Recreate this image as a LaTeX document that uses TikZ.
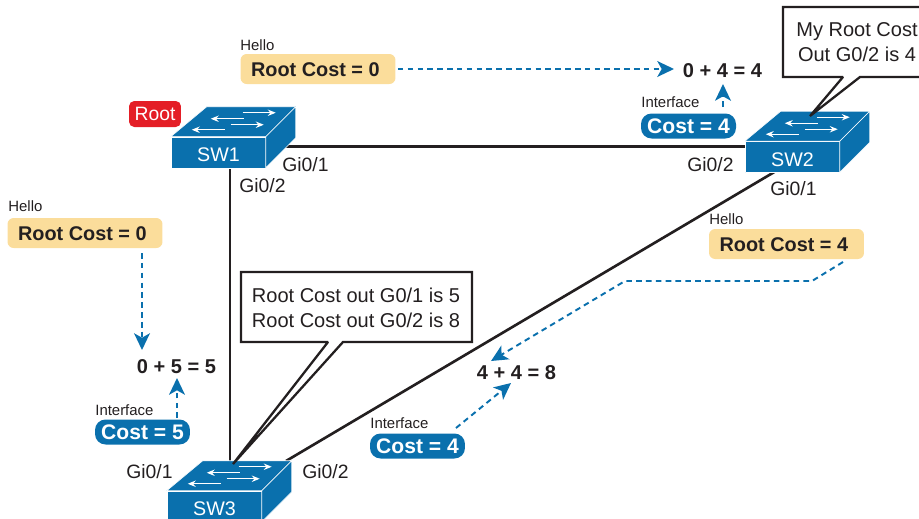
\documentclass[tikz,border=0pt]{standalone}
\usepackage{fontspec}
\setmainfont{Liberation Sans}
\usetikzlibrary{arrows.meta}
\definecolor{swblue}{HTML}{0A70AD}
\definecolor{helloyellow}{HTML}{FBDD9B}
\definecolor{rootred}{HTML}{E41E26}
\definecolor{inkblack}{HTML}{231F20}
\tikzset{
	link/.style={draw=inkblack,line width=1.5pt},
	flow/.style={draw=swblue,line width=1.1pt,dash pattern=on 3.2pt off 2.4pt,-{Stealth[length=9.5pt,width=9pt,inset=2.5pt]}},
	swface/.style={fill=swblue,draw=white,line width=0.3pt,line join=round},
	swfront/.style={swface,draw,minimum width=1.9cm,minimum height=0.62cm,inner sep=0pt,text=white,text height=1.03em,text depth=0pt,font=\fontsize{11.2}{13}\selectfont},
	swarrow/.style={draw=white,line width=0.75pt,-{Stealth[length=4.5pt,width=3.6pt]}},
	port/.style={inner sep=0pt,text=inkblack,font=\fontsize{11}{13}\selectfont},
	small/.style={inner sep=0pt,anchor=west,text=inkblack,font=\fontsize{8.5}{10}\selectfont},
	hello/.style={fill=helloyellow,rounded corners=3.5pt,minimum width=3.1cm,minimum height=0.6cm,inner sep=0pt,text=inkblack,text height=0.87em,text depth=0pt,font=\bfseries\fontsize{11.3}{13}\selectfont},
	ifcost/.style={fill=swblue,rounded corners=6pt,minimum width=1.9cm,minimum height=0.5cm,inner sep=0pt,text=white,text height=0.87em,text depth=0pt,font=\bfseries\fontsize{12}{14}\selectfont},
	sum/.style={inner sep=0pt,text=inkblack,font=\bfseries\fontsize{11.4}{13}\selectfont},
	note/.style={draw=inkblack,fill=white,line width=1.3pt,line join=miter,miter limit=1.5},
	notetext/.style={inner sep=0pt,align=center,text=inkblack,font=\fontsize{11.4}{14.2}\selectfont},
}
% front face centre is #2
\newcommand{\switchbox}[2]{
	\node[swfront] (#1) at (#2) {#1};
	\begin{scope}[shift={(#1.north west)}]
		\draw[swface] (0,0)--(36,-30)--(125,-30)--(95,0)--cycle;
		\draw[swface] (95,0)--(125,-30)--(125,1)--(95,31)--cycle;
		\draw[swarrow] (72,-24)--(105,-24);
		\draw[swarrow] (73,-18)--(40,-18);
		\draw[swarrow] (60,-12)--(93,-12);
		\draw[swarrow] (54,-7)--(21,-7);
	\end{scope}
}
\begin{document}
\begin{tikzpicture}[>=stealth,x=0.02cm,y=-0.02cm]
	\useasboundingbox (0,0) rectangle (919,518);
	\clip (0,0) rectangle (919,518);

	% ports
	\coordinate (SW1g1) at (285,146.5);
	\coordinate (SW1g2) at (230,165);
	\coordinate (SW2g2) at (750,146.5);
	\coordinate (SW2g1) at (776,171);
	\coordinate (SW3g1) at (230,462);
	\coordinate (SW3g2) at (286,461);
	\draw[link] (SW1g1)--(SW2g2);
	\draw[link] (SW1g2)--(SW3g1);
	\draw[link] (SW2g1)--(SW3g2);

	\switchbox{SW1}{218.5,152.5}
	\switchbox{SW2}{792.5,157}
	\switchbox{SW3}{214.5,506.5}

	\node[fill=rootred,rounded corners=3pt,minimum width=1.04cm,minimum height=0.52cm,inner sep=0pt,text=white,text height=0.72em,text depth=0pt,font=\fontsize{11}{13}\selectfont] (root) at (155,114) {Root};

	\node[port,anchor=west] (sw1a) at (282,164.5) {Gi0/1};
	\node[port,anchor=west] (sw1b) at (239,185.5) {Gi0/2};
	\node[port,anchor=west] (sw2b) at (687,164.5) {Gi0/2};
	\node[port,anchor=west] (sw2a) at (770,188.5) {Gi0/1};
	\node[port,anchor=west] (sw3a) at (126,471.5) {Gi0/1};
	\node[port,anchor=west] (sw3b) at (302,471.5) {Gi0/2};

	\node[small] (h1) at (240,45) {Hello};
	\node[small] (h2) at (8,206) {Hello};
	\node[small] (h3) at (709,219) {Hello};
	\node[small] (i1) at (641,102) {Interface};
	\node[small] (i2) at (95,410) {Interface};
	\node[small] (i3) at (370,423) {Interface};

	\node[hello] (r1) at (318,69) {\hspace{-3pt}Root Cost = 0};
	\node[hello] (r2) at (85,233) {\hspace{-3pt}Root Cost = 0};
	\node[hello] (r3) at (786.5,244) {\hspace{-3pt}Root Cost = 4};

	\node[ifcost] (c1) at (688.5,126) {Cost = 4};
	\node[ifcost] (c2) at (142.5,432) {Cost = 5};
	\node[ifcost] (c3) at (417.5,446) {Cost = 4};

	\node[sum] (s1) at (722.5,71) {0 + 4 = 4};
	\node[sum] (s2) at (176.5,367) {0 + 5 = 5};
	\node[sum] (s3) at (516.5,373) {4 + 4 = 8};

	\coordinate (r2out) at (142,253);
	\coordinate (c1out) at (723,107);
	\coordinate (c2out) at (177,418);
	\coordinate (c3out) at (456,428);
	\coordinate (r3out) at (843,262);
	\coordinate (s1in) at (674,69);
	\coordinate (s1up) at (723,84);
	\coordinate (s2in) at (142,350);
	\coordinate (s2up) at (177,378);
	\coordinate (s3in) at (491,361);
	\coordinate (s3up) at (511,383);
	\draw[flow] (r1.east)++(2,0)--(s1in);
	\draw[flow] (c1out)--(s1up);
	\draw[flow] (r2out)--(s2in);
	\draw[flow] (c2out)--(s2up);
	\draw[flow] (c3out)--(s3up);
	\draw[flow] (r3out)--(812,281)--(625,281)--(s3in);

	% callouts
	\draw[note] (783,77)--(843,77)--(810,116)--(860,77)--(930,77)--(930,7)--(783,7)--cycle;
	\node[notetext] (n1) at (857,42.5) {My Root Cost\\Out G0/2 is 4};
	\draw[note] (241,342)--(328,342)--(233,464)--(343,342)--(472,342)--(472,272)--(241,272)--cycle;
	\node[notetext] (n2) at (356,307.5) {Root Cost out G0/1 is 5\\Root Cost out G0/2 is 8};
\end{tikzpicture}
\end{document}
